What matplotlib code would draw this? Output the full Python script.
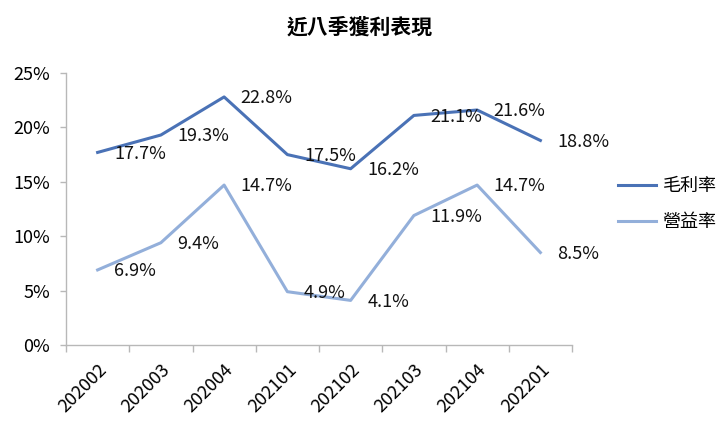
import matplotlib
matplotlib.use('Agg')
import matplotlib.pyplot as plt
import numpy as np
from matplotlib.ticker import FuncFormatter, FixedLocator

plt.rcParams['font.family'] = ['Noto Sans CJK TC', 'DejaVu Sans']

quarters = ['202002', '202003', '202004', '202101', '202102', '202103', '202104', '202201']
gross_margin = [17.7, 19.3, 22.8, 17.5, 16.2, 21.1, 21.6, 18.8]
operating_margin = [6.9, 9.4, 14.7, 4.9, 4.1, 11.9, 14.7, 8.5]
series_names = ['毛利率', '營益率']
yticks = [0, 5, 10, 15, 20, 25]

dark_blue = '#4a72b6'
light_blue = '#93afda'
grid_gray = '#b8b8b8'

fig = plt.figure(figsize=(7.2, 4.23), dpi=100)
ax = fig.add_axes([66 / 720, 1 - 345 / 423, (572 - 66) / 720, (345 - 73) / 423])

x = np.arange(len(quarters))
ax.plot(x, gross_margin, color=dark_blue, lw=2.2, label=series_names[0])
ax.plot(x, operating_margin, color=light_blue, lw=2.2, label=series_names[1])

# data labels sit to the right of each point
for series in (gross_margin, operating_margin):
    for xi, v in zip(x, series):
        ax.annotate(f'{v:.1f}%', (xi, v), xytext=(12, -1), textcoords='offset points',
                    ha='left', va='center', fontsize=13, color='#111111')

ax.set_xlim(-0.5, len(quarters) - 0.5)
ax.set_ylim(0, 25)
ax.set_yticks(yticks)
ax.yaxis.set_major_formatter(FuncFormatter(lambda v, p: f'{v:.0f}%'))

ax.set_xticks(x)
ax.set_xticklabels(quarters, rotation=45, ha='right', rotation_mode='anchor', fontsize=13)
ax.xaxis.set_minor_locator(FixedLocator(np.arange(-0.5, len(quarters), 1)))
ax.tick_params(axis='x', which='major', length=0, pad=11)
ax.tick_params(axis='x', which='minor', length=5, color=grid_gray, width=1)
ax.tick_params(axis='y', length=4.3, color=grid_gray, width=1, labelsize=13, pad=7)

for s in ['top', 'right']:
    ax.spines[s].set_visible(False)
for s in ['left', 'bottom']:
    ax.spines[s].set_color(grid_gray)
    ax.spines[s].set_linewidth(1)

fig.text(0.5, 1 - 27 / 423, '近八季獲利表現', ha='center', va='center',
         fontsize=15, fontweight='bold')

fig.legend(loc='center left', bbox_to_anchor=(604 / 720, 1 - 204 / 423), frameon=False,
           fontsize=13, handlelength=2.1, handletextpad=0.35, labelspacing=1.0,
           borderpad=0.3)

fig.savefig('out.png', dpi=100)
